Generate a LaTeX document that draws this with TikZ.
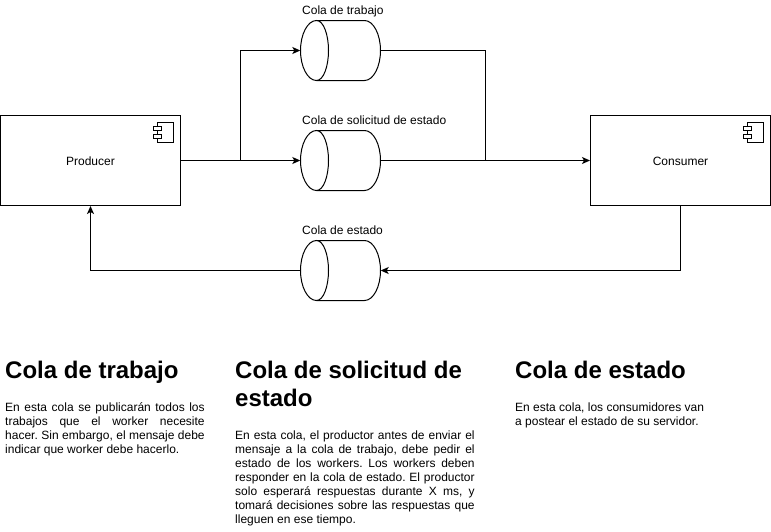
\documentclass[tikz,border=0pt]{standalone}
\usepackage{fontspec}
\setmainfont{Liberation Sans}
\frenchspacing
\usetikzlibrary{arrows.meta}
\tikzset{
  x=1pt,y=-1pt,
  line/.style={line width=1pt,draw=black,line join=miter},
  flow/.style={line,-{Stealth[length=8pt,width=7pt,inset=2pt]}},
  compbox/.style={line,draw,minimum width=180pt,minimum height=90pt,inner sep=0pt,text height=10.6pt,text depth=0pt,font=\fontsize{12}{14}\selectfont},
  cylnode/.style={minimum width=80pt,minimum height=60pt,inner sep=0pt},
  lbl/.style={anchor=base west,inner sep=0pt,font=\fontsize{12}{14}\selectfont},
  txt/.style={anchor=base west,inner sep=0pt},
}
\newcommand{\compicon}[2]{%
  \draw[line] (#1+157.5,#2+122.5) rectangle (#1+173.5,#2+142.5);
  \draw[line,fill=white] (#1+153.5,#2+126.5) rectangle (#1+161.5,#2+130.5);
  \draw[line,fill=white] (#1+153.5,#2+134.5) rectangle (#1+161.5,#2+138.5);
}
\newcommand{\cyl}[3]{%
  \node[cylnode] (#1) at (#2,#3) {};
  \draw[line] (#2-24,#3-30) -- (#2+24,#3-30)
     .. controls (#2+33,#3-30) and (#2+40,#3-16) .. (#2+40,#3)
     .. controls (#2+40,#3+16) and (#2+33,#3+30) .. (#2+24,#3+30)
     -- (#2-24,#3+30)
     .. controls (#2-33,#3+30) and (#2-40,#3+16) .. (#2-40,#3)
     .. controls (#2-40,#3-16) and (#2-33,#3-30) .. (#2-24,#3-30)
     .. controls (#2-17,#3-30) and (#2-12,#3-16) .. (#2-12,#3)
     .. controls (#2-12,#3+16) and (#2-17,#3+30) .. (#2-24,#3+30);
}
\newcommand{\jl}[2]{\makebox[#1pt][s]{#2}\\}
\newcommand{\bodyfont}{\fontsize{12}{14}\selectfont}
\newcommand{\headfont}{\fontsize{24}{28.8}\selectfont\bfseries}
\begin{document}
\begin{tikzpicture}
\useasboundingbox (0,0) rectangle (771,531);
\node[compbox] (prod) at (90.5,160.5) {Producer};
\node[compbox] (cons) at (680.5,160.5) {Consumer};
\compicon{0}{0}
\compicon{590}{0}
\cyl{ct}{340.5}{50.5}
\cyl{cs}{340.5}{160.5}
\cyl{ce}{340.5}{270.5}
\node[lbl] (lt) at (302,14.3) {Cola de trabajo};
\node[lbl] (ls) at (302,124.3) {Cola de solicitud de estado};
\node[lbl] (le) at (302,234.3) {Cola de estado};
\coordinate (split) at (240.5,160.5);
\coordinate (merge) at (485.5,160.5);
\draw[flow] (prod.east) -- (cs.west);
\draw[flow] (split) |- (ct.west);
\draw[line] (ct.east) -| (merge);
\draw[flow] (cs.east) -- (cons.west);
\draw[flow] (cons.south) |- (ce.east);
\draw[flow] (ce.west) -| (prod.south);
\node[txt] (h1) at (5,378) {\parbox[t]{220pt}{\headfont Cola de trabajo}};
\node[txt] (h2) at (235,378) {\parbox[t]{260pt}{\headfont Cola de solicitud de\\estado}};
\node[txt] (h3) at (515,378) {\parbox[t]{240pt}{\headfont Cola de estado}};
\node[txt] (b1) at (5,411) {\parbox[t]{200pt}{\bodyfont
\jl{199.5}{En esta cola se publicarán todos los}
\jl{199.5}{trabajos que el worker necesite}
\jl{199.5}{hacer. Sin embargo, el mensaje debe}
indicar que worker debe hacerlo.}};
\node[txt] (b2) at (235,439) {\parbox[t]{240pt}{\bodyfont
\jl{239.5}{En esta cola, el productor antes de enviar el}
\jl{239.5}{mensaje a la cola de trabajo, debe pedir el}
\jl{239.5}{estado de los workers. Los workers deben}
\jl{239.5}{responder en la cola de estado. El productor}
\jl{239.5}{solo esperará respuestas durante X ms, y}
\jl{239.5}{tomará decisiones sobre las respuestas que}
lleguen en ese tiempo.}};
\node[txt] (b3) at (515,411) {\parbox[t]{200pt}{\bodyfont
En esta cola, los consumidores van\\
a postear el estado de su servidor.}};
\end{tikzpicture}
\end{document}
